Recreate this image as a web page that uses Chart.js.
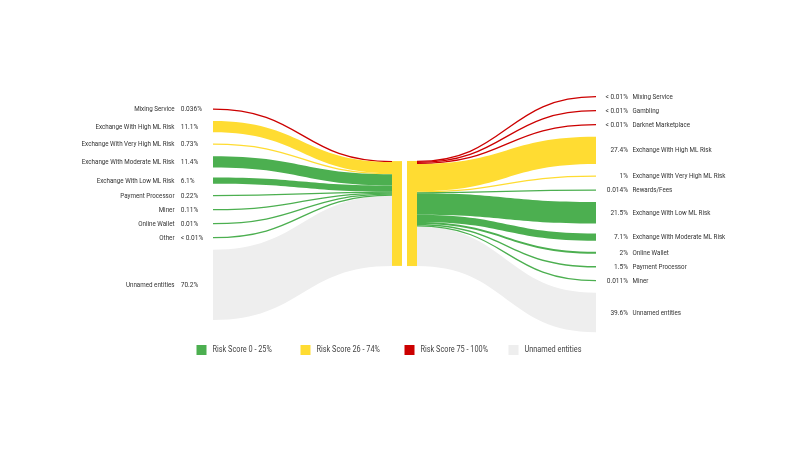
<!DOCTYPE html>
<html>
<head>
<meta charset="utf-8">
<script src="https://cdn.jsdelivr.net/npm/chart.js@4.4.0/dist/chart.umd.min.js"></script>
<style>
    html, body { margin: 0; padding: 0; background: #fff; }
</style>
</head>
<body>
<canvas id="flowChart" width="810" height="450"></canvas>
<script>
    // incoming side (left)
    var inNames = ['Mixing Service', 'Exchange With High ML Risk', 'Exchange With Very High ML Risk',
        'Exchange With Moderate ML Risk', 'Exchange With Low ML Risk', 'Payment Processor',
        'Miner', 'Online Wallet', 'Other', 'Unnamed entities']
    var inLabels = ['0.036%', '11.1%', '0.73%', '11.4%', '6.1%', '0.22%', '0.11%', '0.01%', '< 0.01%', '70.2%']
    var inShares = [0.036, 11.1, 0.73, 11.4, 6.1, 0.22, 0.11, 0.01, 0.005, 70.2]
    var inRisk = ['high', 'mid', 'mid', 'low', 'low', 'low', 'low', 'low', 'low', 'none']

    // outgoing side (right)
    var outNames = ['Mixing Service', 'Gambling', 'Darknet Marketplace', 'Exchange With High ML Risk',
        'Exchange With Very High ML Risk', 'Rewards/Fees', 'Exchange With Low ML Risk',
        'Exchange With Moderate ML Risk', 'Online Wallet', 'Payment Processor', 'Miner', 'Unnamed entities']
    var outLabels = ['< 0.01%', '< 0.01%', '< 0.01%', '27.4%', '1%', '0.014%', '21.5%', '7.1%', '2%', '1.5%', '0.011%', '39.6%']
    var outShares = [0.005, 0.005, 0.005, 27.4, 1, 0.014, 21.5, 7.1, 2, 1.5, 0.011, 39.6]
    var outRisk = ['high', 'high', 'high', 'mid', 'mid', 'low', 'low', 'low', 'low', 'low', 'low', 'none']

    var legendKeys = ['low', 'mid', 'high', 'none']
    var legendLabels = ['Risk Score 0 - 25%', 'Risk Score 26 - 74%', 'Risk Score 75 - 100%', 'Unnamed entities']

    var riskColors = { low: '#4caf50', mid: '#ffdc32', high: '#cc0000', none: '#eeeeee' }

    // layout (scale units, y: 1 unit = 1 % share)
    var cols = { inX: 213, midA: 392, midB: 402, midC: 407, midD: 417, outX: 596 }
    var centerY = 213.5
    var minFlow = 1      // thinnest ribbon
    var minNode = 4      // slot taken by tiny nodes
    var nodeGap = 10
    var textFont = '8px Roboto'
    var legendFont = '8.5px Roboto'

    function thickness(v) { return Math.max(v, minFlow) }

    // outer nodes, stacked around the centre line
    function layoutSide(shares) {
        var slots = shares.map(function(v) { return Math.max(thickness(v), minNode) })
        var total = slots.reduce(function(a, b) { return a + b }, 0) + nodeGap * (shares.length - 1)
        var y = centerY - total / 2
        return slots.map(function(s, i) {
            var c = y + s / 2
            y += s + nodeGap
            return { top: c - thickness(shares[i]) / 2, bottom: c + thickness(shares[i]) / 2, center: c }
        })
    }

    // bands on the middle bar
    function layoutMiddle(shares) {
        var total = shares.reduce(function(a, v) { return a + thickness(v) }, 0)
        var y = centerY - total / 2
        return shares.map(function(v) {
            var band = { top: y, bottom: y + thickness(v) }
            y += thickness(v)
            return band
        })
    }

    // the labels are set in a narrow face, so squeeze them a bit
    function squeezedText(ctx, s, x, y, align, squeeze) {
        ctx.textAlign = align
        ctx.fillText(s, x, y, ctx.measureText(s).width * squeeze)
    }

    var flowPlugin = {
        id: 'flows',
        afterDatasetsDraw: function(chart) {
            var ctx = chart.ctx
            var xs = chart.scales.x
            var ys = chart.scales.y
            function X(v) { return xs.getPixelForValue(v) }
            function Y(v) { return ys.getPixelForValue(v) }

            function ribbon(x0, a, x1, b, share, color) {
                var px0 = X(x0), px1 = X(x1), xm = (px0 + px1) / 2
                ctx.save()
                if (share <= minFlow) {
                    var y0 = Y((a.top + a.bottom) / 2), y1 = Y((b.top + b.bottom) / 2)
                    ctx.strokeStyle = color
                    ctx.lineWidth = 1.3
                    ctx.beginPath()
                    ctx.moveTo(px0, y0)
                    ctx.bezierCurveTo(xm, y0, xm, y1, px1, y1)
                    ctx.stroke()
                } else {
                    ctx.fillStyle = color
                    ctx.beginPath()
                    ctx.moveTo(px0, Y(a.top))
                    ctx.bezierCurveTo(xm, Y(a.top), xm, Y(b.top), px1, Y(b.top))
                    ctx.lineTo(px1, Y(b.bottom))
                    ctx.bezierCurveTo(xm, Y(b.bottom), xm, Y(a.bottom), px0, Y(a.bottom))
                    ctx.closePath()
                    ctx.fill()
                }
                ctx.restore()
            }

            var inNodes = layoutSide(inShares)
            var inBands = layoutMiddle(inShares)
            var outNodes = layoutSide(outShares)
            var outBands = layoutMiddle(outShares)

            // grey first so the coloured flows sit on top
            ;[true, false].forEach(function(greyPass) {
                inShares.forEach(function(v, i) {
                    if ((inRisk[i] == 'none') != greyPass) return
                    ribbon(cols.inX, inNodes[i], cols.midA, inBands[i], v, riskColors[inRisk[i]])
                })
                outShares.forEach(function(v, i) {
                    if ((outRisk[i] == 'none') != greyPass) return
                    ribbon(cols.midD, outBands[i], cols.outX, outNodes[i], v, riskColors[outRisk[i]])
                })
            })

            // the two middle bars (address in / out)
            ctx.fillStyle = riskColors.mid
            var inTop = inBands[0].top, inBottom = inBands[inBands.length - 1].bottom
            ctx.fillRect(X(cols.midA), Y(inTop), X(cols.midB) - X(cols.midA), Y(inBottom) - Y(inTop))
            var outTop = outBands[0].top, outBottom = outBands[outBands.length - 1].bottom
            ctx.fillRect(X(cols.midC), Y(outTop), X(cols.midD) - X(cols.midC), Y(outBottom) - Y(outTop))

            // labels
            ctx.font = textFont
            ctx.fillStyle = '#333333'
            ctx.textBaseline = 'middle'
            inNodes.forEach(function(n, i) {
                squeezedText(ctx, inNames[i], X(cols.inX - 38.5), Y(n.center), 'right', 0.78)
                squeezedText(ctx, inLabels[i], X(cols.inX - 32.3), Y(n.center), 'left', 0.82)
            })
            outNodes.forEach(function(n, i) {
                squeezedText(ctx, outLabels[i], X(cols.outX + 32), Y(n.center), 'right', 0.82)
                squeezedText(ctx, outNames[i], X(cols.outX + 36.5), Y(n.center), 'left', 0.78)
            })

            // legend, fixed width items centred under the bars
            var itemW = 104
            var legendY = 350
            var startX = (cols.midB + cols.midC) / 2 - itemW * legendKeys.length / 2
            ctx.font = legendFont
            legendKeys.forEach(function(k, i) {
                var lx = startX + i * itemW
                ctx.fillStyle = riskColors[k]
                ctx.fillRect(X(lx), Y(legendY - 5), X(lx + 10) - X(lx), Y(legendY + 5) - Y(legendY - 5))
                ctx.fillStyle = '#444444'
                squeezedText(ctx, legendLabels[i], X(lx + 16), Y(legendY), 'left', 0.86)
            })
        }
    }

    var ctx = document.getElementById('flowChart').getContext('2d')
    var myChart = new Chart(ctx, {
        type: 'scatter',
        data: { datasets: [] },
        plugins: [flowPlugin],
        options: {
            responsive: false,
            animation: false,
            devicePixelRatio: 1,
            layout: { padding: 0 },
            plugins: {
                legend: { display: false },
                tooltip: { enabled: false }
            },
            scales: {
                x: { type: 'linear', min: 0, max: 810, display: false },
                y: { type: 'linear', min: 0, max: 450, reverse: true, display: false }
            }
        }
    })
</script>
</body>
</html>
